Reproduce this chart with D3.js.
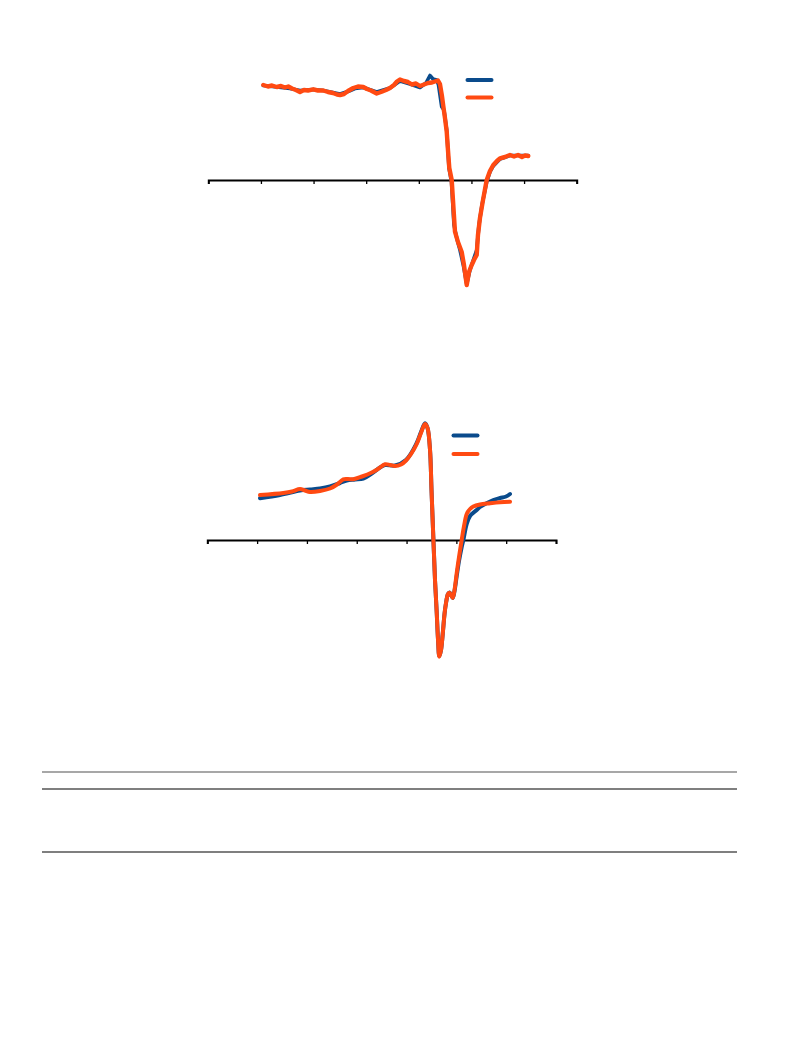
<!DOCTYPE html>
<html><head><meta charset="utf-8">
<script src="https://cdn.jsdelivr.net/npm/d3@7"></script>
<style>body{margin:0;background:#fff}svg{display:block}</style>
</head><body>
<script>
// x: relative energy (0..70, ticks every 10), y: normalised derivative signal
const xTicks = [0,10,20,30,40,50,60,70];
const seriesNames = ["blue","orange"];
const colors = {blue:"#0a4b8c", orange:"#ff4a12"};

const topBlueX = [10.45,13.00,15.52,17.42,19.95,21.85,25.02,26.54,27.87,29.45,32.00,34.52,36.42,38.32,40.22,41.36,42.12,42.69,43.40,43.74,44.35,44.78,45.30,45.73,46.21,46.68,47.20,47.82,48.45,49.10,49.72,50.48,51.00,51.43,52.00,52.90,53.52,54.15,55.42,57.32,59.22,60.80];
const topBlueY = [0.945,0.93,0.915,0.895,0.905,0.895,0.86,0.885,0.915,0.925,0.88,0.92,0.99,0.96,0.925,0.97,1.045,1.01,1.00,0.95,0.733,0.70,0.50,0.12,-0.02,-0.45,-0.58,-0.70,-0.85,-1.04,-0.90,-0.78,-0.70,-0.45,-0.25,-0.02,0.08,0.14,0.21,0.245,0.245,0.245];

const topOrangeX = [10.45,11.34,12.10,13.00,13.81,14.57,15.20,15.90,16.66,17.42,18.18,18.94,19.95,20.84,21.85,22.74,23.69,24.45,25.02,25.78,26.54,27.55,28.44,29.45,30.15,30.91,32.00,32.81,33.76,34.52,35.28,35.85,36.42,37.18,37.94,38.70,39.46,40.22,40.98,41.74,42.50,43.07,43.64,44.02,44.40,44.65,44.97,45.30,45.54,45.79,46.25,46.49,46.87,47.44,48.15,48.58,49.10,49.53,50.05,50.48,51.00,51.24,51.62,52.20,52.90,53.52,54.15,54.85,55.42,56.37,57.32,58.09,58.85,59.60,60.18,60.80];
const topOrangeY = [0.95,0.935,0.945,0.93,0.94,0.925,0.935,0.915,0.90,0.88,0.90,0.895,0.907,0.895,0.895,0.88,0.87,0.855,0.85,0.86,0.89,0.92,0.935,0.93,0.91,0.895,0.865,0.88,0.90,0.92,0.95,0.985,1.005,0.99,0.98,0.955,0.965,0.94,0.955,0.97,0.975,0.985,0.995,0.96,0.84,0.74,0.62,0.483,0.30,0.12,0.00,-0.20,-0.517,-0.62,-0.72,-0.85,-1.05,-0.92,-0.85,-0.80,-0.75,-0.55,-0.38,-0.20,0.00,0.09,0.15,0.19,0.217,0.23,0.25,0.235,0.25,0.23,0.245,0.24];

const botBlueX = [10.58,14.60,18.61,20.62,22.63,24.63,26.64,27.99,29.65,31.32,33.01,34.67,35.68,37.68,39.89,42.04,42.90,43.71,44.21,44.71,45.01,45.37,45.71,46.05,46.32,46.58,46.92,47.26,47.62,47.92,48.32,48.62,48.93,49.27,49.63,50.07,50.53,51.07,51.40,52.08,52.74,54.08,54.75,55.95,57.42,58.76,59.97,60.77];
const botBlueY = [0.417,0.45,0.495,0.505,0.515,0.535,0.57,0.595,0.605,0.615,0.665,0.725,0.75,0.745,0.80,0.97,1.08,1.167,1.12,0.90,0.50,0.03,-0.40,-0.72,-1.00,-1.16,-1.10,-0.94,-0.74,-0.63,-0.54,-0.525,-0.55,-0.58,-0.51,-0.36,-0.21,-0.07,0.00,0.16,0.24,0.30,0.33,0.365,0.40,0.42,0.435,0.46];

const botOrangeX = [10.58,15.26,17.00,18.61,19.61,20.62,22.63,24.63,26.04,27.30,28.25,29.31,31.06,33.01,34.27,35.68,36.68,37.68,38.89,39.89,40.90,42.04,42.90,43.71,44.21,44.71,45.01,45.37,45.71,46.05,46.32,46.58,46.92,47.26,47.62,47.92,48.32,48.62,48.93,49.27,49.63,50.07,50.53,51.07,51.54,52.08,52.74,53.40,54.75,56.76,58.76,60.77];
const botOrangeY = [0.45,0.47,0.485,0.51,0.495,0.48,0.49,0.515,0.555,0.607,0.61,0.607,0.635,0.675,0.71,0.757,0.75,0.74,0.755,0.795,0.86,0.96,1.07,1.16,1.12,0.90,0.50,0.03,-0.40,-0.72,-1.00,-1.167,-1.10,-0.94,-0.74,-0.63,-0.54,-0.527,-0.55,-0.58,-0.50,-0.33,-0.17,0.00,0.14,0.26,0.31,0.335,0.355,0.367,0.377,0.383];

const W = 793, H = 1057;
const svg = d3.select("body").append("svg").attr("width", W).attr("height", H);

function zip(xs, ys){ return xs.map((x,i)=>({x, y: ys[i]})); }

function panel(cfg){
  const x = d3.scaleLinear().domain([0,70]).range(cfg.xr);
  const y = d3.scaleLinear().domain([-1.2,1.2]).range(cfg.yr);
  const g = svg.append("g");
  const ax = g.append("g").attr("transform", `translate(0,${y(0)})`)
    .call(d3.axisBottom(x).tickValues(xTicks).tickSize(4).tickSizeOuter(4).tickFormat(""));
  ax.select(".domain").attr("stroke","#000").attr("stroke-width",2);
  ax.selectAll(".tick line").attr("stroke","#000").attr("stroke-width",1.3);
  const line = d3.line().x(d=>x(d.x)).y(d=>y(d.y)).curve(cfg.curve);
  cfg.series.forEach(s=>{
    g.append("path").datum(s.data).attr("d", line)
      .attr("fill","none").attr("stroke", colors[s.name]).attr("stroke-width", s.w)
      .attr("stroke-linejoin","round").attr("stroke-linecap","round");
  });
  // legend
  seriesNames.forEach((n,i)=>{
    g.append("line").attr("x1",cfg.leg[0]).attr("x2",cfg.leg[0]+24)
      .attr("y1",cfg.leg[1]+i*cfg.leg[2]).attr("y2",cfg.leg[1]+i*cfg.leg[2])
      .attr("stroke",colors[n]).attr("stroke-width",4).attr("stroke-linecap","round");
  });
}

panel({xr:[208.3,576.7], yr:[300,60], curve:d3.curveLinear, leg:[467.5,80,17.5],
  series:[{name:"blue",data:zip(topBlueX,topBlueY),w:3.6},{name:"orange",data:zip(topOrangeX,topOrangeY),w:4.4}]});
panel({xr:[207.3,556.0], yr:[660,420], curve:d3.curveCatmullRom, leg:[453.5,435.5,18.5],
  series:[{name:"blue",data:zip(botBlueX,botBlueY),w:4},{name:"orange",data:zip(botOrangeX,botOrangeY),w:4}]});

// table rules
const rules = [{y:772,c:"#8a8a8a",w:1.5},{y:789,c:"#000",w:1.2},{y:852,c:"#555",w:1.5}];
svg.selectAll("line.rule").data(rules).join("line").attr("class","rule")
  .attr("x1",42).attr("x2",737).attr("y1",d=>d.y).attr("y2",d=>d.y)
  .attr("stroke",d=>d.c).attr("stroke-width",d=>d.w);
</script>
</body></html>
